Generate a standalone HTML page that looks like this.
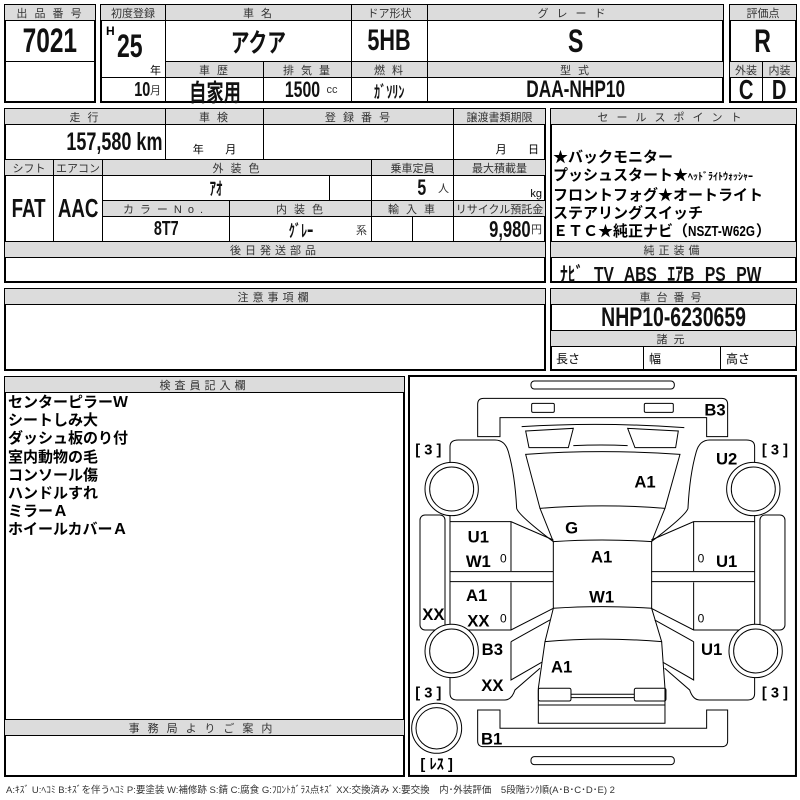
<!DOCTYPE html>
<html><head><meta charset="utf-8"><style>
body{margin:0;width:800px;height:800px;background:#fff;position:relative;overflow:hidden;font-family:"Liberation Sans","Noto Sans CJK JP",sans-serif;}
.b{position:absolute;border:1px solid #000;box-sizing:border-box;display:flex;align-items:center;justify-content:center;white-space:nowrap;}
.o{position:absolute;border:2px solid #000;box-sizing:border-box;}
.h{background:#dcdcdc;font-size:11px;color:#333;letter-spacing:2px;}
.v{font-weight:bold;color:#111;}
.n{display:inline-block;transform:scaleX(.72);transform-origin:center;}
.nr{display:inline-block;transform:scaleX(.72);transform-origin:right;}
.s{font-size:11px;color:#333;font-weight:normal;}
</style></head><body>
<div class="o" style="left:4px;top:4px;width:92px;height:99px"></div>
<div class="b h" style="left:4px;top:4px;width:92px;height:17px">出 品 番 号</div>
<div class="b v" style="left:4px;top:20px;width:92px;height:42px;font-size:34px"><span class="n">7021</span></div>

<div class="o" style="left:100px;top:4px;width:624px;height:99px"></div>
<div class="b h" style="left:100px;top:4px;width:66px;height:17px;letter-spacing:0">初度登録</div>
<div class="b h" style="left:165px;top:4px;width:187px;height:17px">車 名</div>
<div class="b h" style="left:351px;top:4px;width:77px;height:17px;letter-spacing:0">ドア形状</div>
<div class="b h" style="left:427px;top:4px;width:297px;height:17px;letter-spacing:8px">グレード</div>
<div class="b v" style="left:100px;top:20px;width:66px;height:58px"></div>
<div style="position:absolute;left:106px;top:24px;font-weight:bold;font-size:12px">H</div>
<div class="v" style="position:absolute;left:112px;top:28px;font-size:32px"><span class="n">25</span></div>
<div style="position:absolute;left:150px;top:62px;font-size:11px">年</div>
<div class="b v" style="left:165px;top:20px;width:187px;height:42px;font-size:26px"><span class="n">アクア</span></div>
<div class="b v" style="left:351px;top:20px;width:77px;height:42px;font-size:30px"><span class="n">5HB</span></div>
<div class="b v" style="left:427px;top:20px;width:297px;height:42px;font-size:32px"><span class="n">S</span></div>
<div class="b h" style="left:165px;top:61px;width:99px;height:17px">車 歴</div>
<div class="b h" style="left:263px;top:61px;width:89px;height:17px">排 気 量</div>
<div class="b h" style="left:351px;top:61px;width:77px;height:17px">燃 料</div>
<div class="b h" style="left:427px;top:61px;width:297px;height:17px">型 式</div>
<div class="b v" style="left:100px;top:77px;width:66px;height:26px;font-size:20px;justify-content:flex-end;padding-right:4px"><span class="nr">10</span><span class="s">月</span></div>
<div class="b v" style="left:165px;top:77px;width:99px;height:26px;font-size:24px"><span class="n">自家用</span></div>
<div class="b v" style="left:263px;top:77px;width:89px;height:26px;font-size:22px"><span class="n">1500</span><span class="s">cc</span></div>
<div class="b v" style="left:351px;top:77px;width:77px;height:26px;font-size:17px"><span class="n">ｶﾞｿﾘﾝ</span></div>
<div class="b v" style="left:427px;top:77px;width:297px;height:26px;font-size:24px"><span class="n">DAA-NHP10</span></div>

<div class="o" style="left:729px;top:4px;width:68px;height:99px"></div>
<div class="b h" style="left:729px;top:4px;width:68px;height:17px;letter-spacing:0">評価点</div>
<div class="b v" style="left:729px;top:20px;width:68px;height:42px;font-size:32px"><span class="n">R</span></div>
<div class="b h" style="left:729px;top:61px;width:34px;height:17px;letter-spacing:0">外装</div>
<div class="b h" style="left:762px;top:61px;width:35px;height:17px;letter-spacing:0">内装</div>
<div class="b v" style="left:729px;top:77px;width:34px;height:26px;font-size:28px"><span class="n">C</span></div>
<div class="b v" style="left:762px;top:77px;width:35px;height:26px;font-size:28px"><span class="n">D</span></div>

<div class="o" style="left:4px;top:108px;width:542px;height:175px"></div>
<div class="b h" style="left:4px;top:108px;width:162px;height:17px">走 行</div>
<div class="b h" style="left:165px;top:108px;width:99px;height:17px">車 検</div>
<div class="b h" style="left:263px;top:108px;width:191px;height:17px">登 録 番 号</div>
<div class="b h" style="left:453px;top:108px;width:93px;height:17px;letter-spacing:0">譲渡書類期限</div>
<div class="b v" style="left:4px;top:124px;width:162px;height:36px;font-size:25px;justify-content:flex-end;padding-right:3px"><span class="nr">157,580 km</span></div>
<div class="b" style="left:165px;top:124px;width:99px;height:36px;font-size:11px;align-items:flex-end;padding-bottom:2px">年&nbsp;&nbsp;&nbsp;&nbsp;&nbsp;&nbsp;&nbsp;月</div>
<div class="b" style="left:263px;top:124px;width:191px;height:36px"></div>
<div class="b" style="left:453px;top:124px;width:93px;height:36px;font-size:11px;align-items:flex-end;justify-content:flex-end;padding:0 6px 2px 0">月&nbsp;&nbsp;&nbsp;&nbsp;&nbsp;&nbsp;&nbsp;日</div>
<div class="b h" style="left:4px;top:159px;width:50px;height:17px;letter-spacing:0">シフト</div>
<div class="b h" style="left:53px;top:159px;width:50px;height:17px;letter-spacing:0">エアコン</div>
<div class="b h" style="left:102px;top:159px;width:270px;height:17px">外 装 色</div>
<div class="b h" style="left:371px;top:159px;width:83px;height:17px;letter-spacing:0">乗車定員</div>
<div class="b h" style="left:453px;top:159px;width:93px;height:17px;letter-spacing:0">最大積載量</div>
<div class="b v" style="left:4px;top:175px;width:50px;height:67px;font-size:26px"><span class="n">FAT</span></div>
<div class="b v" style="left:53px;top:175px;width:50px;height:67px;font-size:26px"><span class="n">AAC</span></div>
<div class="b v" style="left:102px;top:175px;width:228px;height:26px;font-size:18px"><span class="n">ｱｵ</span></div>
<div class="b" style="left:329px;top:175px;width:43px;height:26px"></div>
<div class="b v" style="left:371px;top:175px;width:83px;height:26px;font-size:22px;justify-content:flex-end;padding-right:4px"><span class="nr">5</span>&nbsp;&nbsp;<span class="s">人</span></div>
<div class="b" style="left:453px;top:175px;width:93px;height:26px;font-size:11px;justify-content:flex-end;padding-right:3px;align-items:flex-end">kg</div>
<div class="b h" style="left:102px;top:200px;width:128px;height:17px;letter-spacing:6px">カラーNo.</div>
<div class="b h" style="left:229px;top:200px;width:143px;height:17px">内 装 色</div>
<div class="b h" style="left:371px;top:200px;width:83px;height:17px">輸 入 車</div>
<div class="b h" style="left:453px;top:200px;width:93px;height:17px;letter-spacing:0">リサイクル預託金</div>
<div class="b v" style="left:102px;top:216px;width:128px;height:26px;font-size:20px"><span class="n">8T7</span></div>
<div class="b v" style="left:229px;top:216px;width:143px;height:26px;font-size:17px"><span class="n">ｸﾞﾚｰ</span><span class="s" style="position:absolute;right:4px;bottom:3px">系</span></div>
<div class="b" style="left:371px;top:216px;width:42px;height:26px"></div>
<div class="b" style="left:412px;top:216px;width:42px;height:26px"></div>
<div class="b v" style="left:453px;top:216px;width:93px;height:26px;font-size:23px;justify-content:flex-end;padding-right:3px"><span class="nr">9,980</span><span class="s">円</span></div>
<div class="b h" style="left:4px;top:241px;width:542px;height:17px;letter-spacing:4px">後日発送部品</div>

<div class="o" style="left:550px;top:108px;width:247px;height:175px"></div>
<div class="b h" style="left:550px;top:108px;width:247px;height:17px;letter-spacing:8px">セールスポイント</div>
<div style="position:absolute;left:553px;top:149px;font-size:15px;font-weight:bold;line-height:18px;white-space:nowrap">★バックモニター<br>プッシュスタート★<span style="font-size:10px">ﾍｯﾄﾞﾗｲﾄｳｫｯｼｬｰ</span><br>フロントフォグ★オートライト<br>ステアリングスイッチ<br>ＥＴＣ★純正ナビ（<span style="display:inline-block;transform:scaleX(.78);transform-origin:left;margin-right:-18px">NSZT-W62G</span>）</div>
<div class="b h" style="left:550px;top:241px;width:247px;height:17px;letter-spacing:4px">純正装備</div>
<div class="v" style="position:absolute;left:560px;top:258px;font-size:20px;word-spacing:8px;white-space:nowrap;transform:scaleX(.78);transform-origin:left">ﾅﾋﾞ TV ABS ｴｱB PS PW</div>

<div class="o" style="left:4px;top:288px;width:542px;height:83px"></div>
<div class="b h" style="left:4px;top:288px;width:542px;height:17px;letter-spacing:4px">注意事項欄</div>
<div class="o" style="left:550px;top:288px;width:247px;height:83px"></div>
<div class="b h" style="left:550px;top:288px;width:247px;height:17px;letter-spacing:6px">車台番号</div>
<div class="b v" style="left:550px;top:304px;width:247px;height:27px;font-size:27px"><span class="n">NHP10-6230659</span></div>
<div class="b h" style="left:550px;top:330px;width:247px;height:17px;letter-spacing:6px">諸元</div>
<div class="b" style="left:550px;top:346px;width:94px;height:25px;font-size:12px;justify-content:flex-start;padding-left:5px">長さ</div>
<div class="b" style="left:643px;top:346px;width:78px;height:25px;font-size:12px;justify-content:flex-start;padding-left:5px">幅</div>
<div class="b" style="left:720px;top:346px;width:77px;height:25px;font-size:12px;justify-content:flex-start;padding-left:5px">高さ</div>

<div class="o" style="left:4px;top:376px;width:401px;height:401px"></div>
<div class="b h" style="left:4px;top:376px;width:401px;height:17px;letter-spacing:4px">検査員記入欄</div>
<div style="position:absolute;left:8px;top:394px;font-size:15px;font-weight:bold;line-height:18.2px;white-space:nowrap">センターピラーＷ<br>シートしみ大<br>ダッシュ板のり付<br>室内動物の毛<br>コンソール傷<br>ハンドルすれ<br>ミラーＡ<br>ホイールカバーＡ</div>
<div class="b h" style="left:4px;top:719px;width:401px;height:17px;letter-spacing:8px">事務局よりご案内</div>

<svg style="position:absolute;left:0;top:0" width="800" height="800">
<g transform="translate(405,375) scale(0.3333)" fill="none" stroke="#000" stroke-width="3">
<rect x="12" y="3" width="1161" height="1200" stroke-width="6"/>
<rect x="378" y="18" width="430" height="24" rx="10"/>
<path d="M218,88 Q218,70 236,70 L950,70 Q968,70 968,88 L968,185 L905,185 L905,128 L285,128 L285,185 L218,185 Z"/>
<rect x="380" y="85" width="68" height="27" rx="4"/><rect x="718" y="85" width="87" height="27" rx="4"/>
<path d="M350,155 Q590,140 838,158"/>
<path d="M362,168 L505,160 L490,218 L372,218 Z"/><path d="M668,160 L820,168 L812,218 L690,218 Z"/>
<path d="M505,212 Q590,208 668,212"/>
<path d="M362,238 Q590,222 825,238 L780,400 Q590,385 405,400 Z"/>
<path d="M405,400 L445,500 Q590,490 740,500 L780,400"/>
<path d="M445,500 L445,700 Q590,690 740,700 L740,500"/>
<path d="M445,700 L420,800 Q590,785 770,800 L740,700"/>
<path d="M420,800 L400,940 L400,1045 L780,1045 L780,940 L770,800"/>
<rect x="400" y="940" width="98" height="38" rx="5"/><rect x="688" y="940" width="95" height="38" rx="5"/>
<path d="M498,958 L688,958 M498,968 L688,968 M400,990 L780,990"/>
<path d="M218,1005 L285,1005 L285,1060 L905,1060 L905,1005 L968,1005 L968,1098 Q968,1115 950,1115 L236,1115 Q218,1115 218,1098 Z"/>
<rect x="378" y="1145" width="430" height="24" rx="10"/>
<path d="M135,270 L135,215 Q135,195 160,195 L270,195 Q300,195 310,230 Q330,300 335,400 Q340,420 445,500"/>
<path d="M135,420 L135,440 L318,440 L445,495 M135,440 L135,765 L318,765 L445,700 M318,440 L318,588 M135,590 L445,590 M135,620 L445,620 M318,622 L318,765"/>
<path d="M135,765 L135,790 M135,900 L135,955 Q135,975 155,975 L300,975 Q320,975 330,945 L405,880 M318,800 L435,735 M318,800 L318,915 L410,862"/>
<g transform="translate(1184,0) scale(-1,1)">
<path d="M135,270 L135,215 Q135,195 160,195 L270,195 Q300,195 310,230 Q330,300 335,400 Q340,420 445,500"/>
<path d="M135,420 L135,440 L318,440 L445,495 M135,440 L135,765 L318,765 L445,700 M318,440 L318,588 M135,590 L445,590 M135,620 L445,620 M318,622 L318,765"/>
<path d="M135,765 L135,790 M135,900 L135,955 Q135,975 155,975 L300,975 Q320,975 330,945 L405,880 M318,800 L435,735 M318,800 L318,915 L410,862"/>
</g>
<rect x="45" y="420" width="75" height="345" rx="15"/><rect x="1065" y="420" width="75" height="345" rx="15"/>
<g fill="#fff">
<circle cx="140" cy="342" r="80"/><circle cx="1045" cy="342" r="80"/><circle cx="140" cy="828" r="80"/><circle cx="1052" cy="828" r="80"/><circle cx="95" cy="1060" r="75"/>
</g>
<circle cx="140" cy="342" r="66"/><circle cx="1045" cy="342" r="66"/><circle cx="140" cy="828" r="66"/><circle cx="1052" cy="828" r="66"/><circle cx="95" cy="1060" r="62"/>
</g>
<g transform="translate(405,375) scale(0.3333)" font-family="Liberation Sans,Noto Sans CJK JP,sans-serif" font-weight="bold" font-size="50" text-anchor="middle" fill="#000">
<text x="930" y="122">B3</text><text x="965" y="268">U2</text><text x="720" y="338">A1</text>
<text x="500" y="475">G</text><text x="220" y="502">U1</text><text x="220" y="576">W1</text>
<text x="590" y="563">A1</text><text x="965" y="576">U1</text><text x="215" y="678">A1</text>
<text x="85" y="735">XX</text><text x="220" y="755">XX</text><text x="590" y="683">W1</text>
<text x="262" y="840">B3</text><text x="920" y="840">U1</text><text x="470" y="892">A1</text>
<text x="262" y="948">XX</text><text x="260" y="1108">B1</text>
<g font-weight="normal" font-size="36"><text x="295" y="562">0</text><text x="888" y="562">0</text><text x="295" y="742">0</text><text x="888" y="742">0</text></g>
<g font-size="44"><text x="70" y="238">[ 3 ]</text><text x="1110" y="238">[ 3 ]</text><text x="70" y="968">[ 3 ]</text><text x="1110" y="968">[ 3 ]</text>
<text x="95" y="1182">[ ﾚｽ ]</text></g>
</g>
</svg>
<div style="position:absolute;left:6px;top:782px;font-size:9.5px;color:#333;white-space:nowrap">A:ｷｽﾞ U:ﾍｺﾐ B:ｷｽﾞを伴うﾍｺﾐ P:要塗装 W:補修跡 S:錆 C:腐食 G:ﾌﾛﾝﾄｶﾞﾗｽ点ｷｽﾞ XX:交換済み X:要交換　内･外装評価　5段階ﾗﾝｸ順(A･B･C･D･E) 2</div>
</body></html>
